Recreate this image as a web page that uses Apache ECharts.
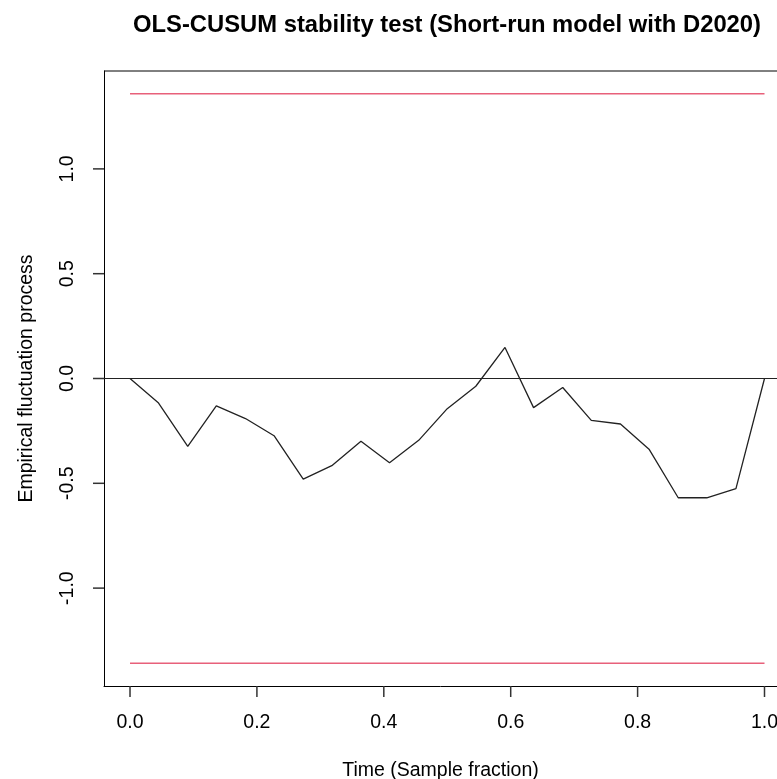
<!DOCTYPE html>
<html>
<head>
<meta charset="utf-8">
<script src="https://cdn.jsdelivr.net/npm/echarts@6/dist/echarts.min.js"></script>
<style>
  html, body { margin: 0; padding: 0; background: #fff; }
  #chart { width: 777px; height: 779px; }
</style>
</head>
<body>
<div id="chart"></div>
<script>
// OLS-CUSUM empirical fluctuation process
var timeFraction = [0, 0.045, 0.091, 0.136, 0.182, 0.227, 0.273, 0.318, 0.364, 0.409, 0.455, 0.5,
  0.545, 0.591, 0.636, 0.682, 0.727, 0.773, 0.818, 0.864, 0.909, 0.955, 1];
var fluctuation = [0, -0.117, -0.324, -0.131, -0.191, -0.273, -0.480, -0.416, -0.299, -0.402, -0.295, -0.144,
  -0.037, 0.148, -0.139, -0.043, -0.200, -0.217, -0.337, -0.569, -0.569, -0.525, 0];
var boundary = 1.358;
var xTicks = [0, 0.2, 0.4, 0.6, 0.8, 1.0];
var yTicks = [-1.0, -0.5, 0, 0.5, 1.0];

var font = "'Liberation Sans', Arial, sans-serif";
// R pads the ranges by 4%; the box runs past the right edge of the picture
var xMin = -0.041, xMax = 1.0197;
var yMax = 1.467;
var tickLen = 11;
var chart = echarts.init(document.getElementById('chart'));

var titleText = {
  type: 'text',
  x: 447,
  y: 25,
  style: {
    text: 'OLS-CUSUM stability test (Short-run model with D2020)',
    align: 'center',
    verticalAlign: 'middle',
    fontFamily: font,
    fontWeight: 'bold',
    fontSize: 23.8,
    fill: '#000'
  }
};

var option = {
  animation: false,
  graphic: [titleText],
  grid: {
    left: 104, top: 71, right: 0, bottom: 93,
    outerBoundsMode: 'none',
    containLabel: false,
    show: false
  },
  xAxis: {
    type: 'value',
    min: xMin, max: xMax,
    name: 'Time (Sample fraction)',
    nameLocation: 'middle',
    nameGap: 75,
    nameTextStyle: { fontFamily: font, fontSize: 19.5, color: '#000' },
    axisLine: { show: true, onZero: false, lineStyle: { color: '#000', width: 1 } },
    splitLine: { show: false },
    axisTick: { show: false },
    axisLabel: {
      customValues: xTicks,
      margin: 27,
      fontFamily: font, fontSize: 19.5, color: '#000',
      formatter: function (v) { return v.toFixed(1); }
    }
  },
  yAxis: {
    type: 'value',
    min: -yMax, max: yMax,
    name: 'Empirical fluctuation process',
    nameLocation: 'middle',
    nameGap: 67,
    nameTextStyle: { fontFamily: font, fontSize: 19.5, color: '#000' },
    axisLine: { show: true, onZero: false, lineStyle: { color: '#000', width: 1 } },
    splitLine: { show: false },
    axisTick: { show: false },
    axisLabel: {
      customValues: yTicks,
      rotate: 90,
      margin: 26,
      fontFamily: font, fontSize: 19.5, color: '#000',
      formatter: function (v) { return v.toFixed(1); }
    }
  },
  series: [
    {
      type: 'line',
      name: 'process',
      data: timeFraction.map(function (t, i) { return [t, fluctuation[i]]; }),
      showSymbol: false,
      lineStyle: { color: '#222', width: 1.3 },
      itemStyle: { color: '#222' },
      z: 3,
      markLine: {
        silent: true,
        symbol: 'none',
        label: { show: false },
        lineStyle: { color: '#222', width: 1.2, type: 'solid' },
        data: [{ yAxis: 0 }]
      }
    },
    {
      type: 'line',
      name: 'upper',
      data: [[0, boundary], [1, boundary]],
      showSymbol: false,
      lineStyle: { color: '#E8607A', width: 1.5 },
      itemStyle: { color: '#E8607A' }
    },
    {
      type: 'line',
      name: 'lower',
      data: [[0, -boundary], [1, -boundary]],
      showSymbol: false,
      lineStyle: { color: '#E8607A', width: 1.5 },
      itemStyle: { color: '#E8607A' }
    }
  ]
};

chart.setOption(option);

// top edge of the box and outward tick marks, placed with the chart's own scales
var frame = [titleText];
var stroke = function (w) { return { stroke: '#333', lineWidth: w }; };
var tl = chart.convertToPixel({ gridIndex: 0 }, [xMin, yMax]);
var tr = chart.convertToPixel({ gridIndex: 0 }, [xMax, yMax]);
frame.push({ type: 'line', shape: { x1: tl[0], y1: tl[1], x2: tr[0] + 20, y2: tr[1] }, style: { stroke: '#000', lineWidth: 1 } });
xTicks.forEach(function (v) {
  var p = chart.convertToPixel({ gridIndex: 0 }, [v, -yMax]);
  frame.push({ type: 'line', z: 10, shape: { x1: p[0], y1: p[1], x2: p[0], y2: p[1] + tickLen }, style: stroke(1.5) });
});
yTicks.forEach(function (v) {
  var p = chart.convertToPixel({ gridIndex: 0 }, [xMin, v]);
  frame.push({ type: 'line', z: 10, shape: { x1: p[0], y1: p[1], x2: p[0] - tickLen, y2: p[1] }, style: stroke(1.5) });
});
chart.setOption({ graphic: frame }, { replaceMerge: ['graphic'] });
</script>
</body>
</html>
